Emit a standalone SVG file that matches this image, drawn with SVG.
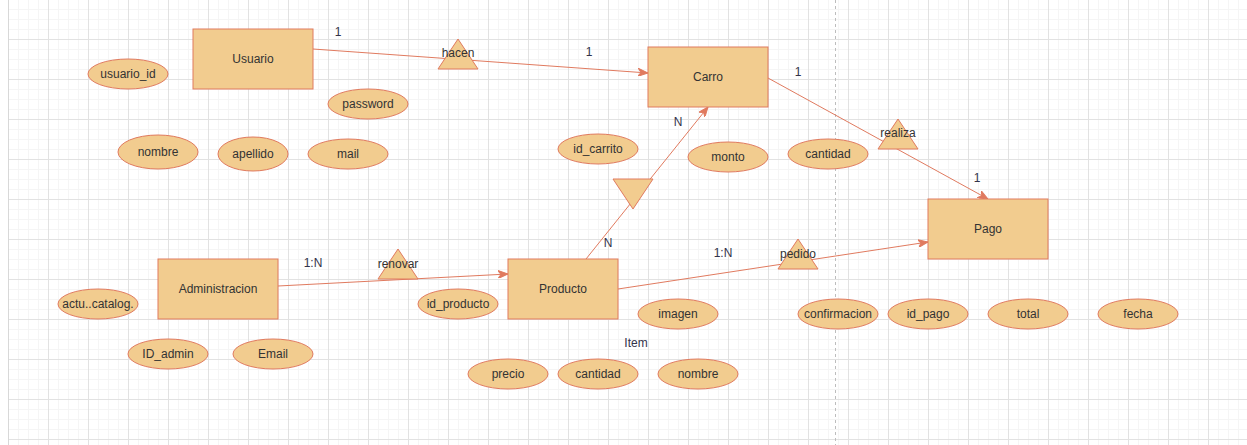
<svg xmlns="http://www.w3.org/2000/svg" width="1247" height="445" viewBox="0 0 1247 445">
<defs>
<pattern id="grid" x="8" y="0" width="40" height="40" patternUnits="userSpaceOnUse">
<path d="M10.5 0V40M20.5 0V40M30.5 0V40M0 9.5H40M0 19.5H40M0 29.5H40" stroke="#f5f5f5" stroke-width="1" fill="none"/>
<path d="M0.5 0V40M0 39.5H40" stroke="#e2e2e2" stroke-width="1" fill="none"/>
</pattern>
<marker id="arr" viewBox="0 0 10 8" refX="10" refY="4" markerWidth="10" markerHeight="8" markerUnits="userSpaceOnUse" orient="auto">
<path d="M0,0 L10,4 L0,8 L3,4 z" fill="#E07A5F" stroke="#E07A5F" stroke-width="1"/>
</marker>
</defs>
<style>
.ent{fill:#F2CC8F;stroke:#E07A5F;stroke-width:1}
.att{fill:#F2CC8F;stroke:#E07A5F;stroke-width:1}
.rel{fill:#F2CC8F;stroke:#E07A5F;stroke-width:1}
.t{font-family:"Liberation Sans",Arial,sans-serif;font-size:12px;fill:#333333;text-anchor:middle;dominant-baseline:central}
.lbl{font-family:"Liberation Sans",Arial,sans-serif;font-size:12px;fill:#33334a;text-anchor:middle;dominant-baseline:central}
.c{stroke:#E07A5F;stroke-width:1;fill:none;marker-end:url(#arr)}
</style>
<rect x="0" y="0" width="1247" height="445" fill="#ffffff"/>
<rect x="8" y="0" width="1239" height="445" fill="url(#grid)"/>
<line x1="8.5" y1="0" x2="8.5" y2="445" stroke="#d8d8d8"/>
<line x1="835.5" y1="0" x2="835.5" y2="445" stroke="#bdbdbd" stroke-dasharray="3,3"/>

<g id="connectors">
<line class="c" x1="313" y1="49" x2="648" y2="73"/>
<line class="c" x1="768" y1="78" x2="988" y2="199"/>
<line class="c" x1="586" y1="259" x2="708" y2="107"/>
<line class="c" x1="278" y1="286" x2="508" y2="274"/>
<line class="c" x1="618" y1="289" x2="928" y2="242"/>
</g>

<g id="usuario"><rect class="ent" x="193" y="29" width="120" height="60"/><text class="t" x="253" y="59">Usuario</text></g>
<g id="carro"><rect class="ent" x="648" y="47" width="120" height="60"/><text class="t" x="708" y="77">Carro</text></g>
<g id="pago"><rect class="ent" x="928" y="199" width="120" height="60"/><text class="t" x="988" y="229">Pago</text></g>
<g id="administracion"><rect class="ent" x="158" y="259" width="120" height="60"/><text class="t" x="218" y="289">Administracion</text></g>
<g id="producto"><rect class="ent" x="508" y="259" width="110" height="60"/><text class="t" x="563" y="289">Producto</text></g>

<g id="rel-hacen"><path class="rel" d="M458 39L478 69L438 69Z"/><text class="t" x="458" y="53">hacen</text></g>
<g id="rel-realiza"><path class="rel" d="M898 119L918 149L878 149Z"/><text class="t" x="898" y="133">realiza</text></g>
<g id="rel-pedido"><path class="rel" d="M798 239L818 269L778 269Z"/><text class="t" x="798" y="254">pedido</text></g>
<g id="rel-renovar"><path class="rel" d="M398 249L418 279L378 279Z"/><text class="t" x="398" y="264">renovar</text></g>
<g id="rel-item"><path class="rel" d="M613 179L653 179L633 209Z"/></g>

<g id="att-usuario_id"><ellipse class="att" cx="128" cy="74" rx="40" ry="15"/><text class="t" x="128" y="74">usuario_id</text></g>
<g id="att-password"><ellipse class="att" cx="368" cy="104" rx="40" ry="15"/><text class="t" x="368" y="104">password</text></g>
<g id="att-nombre"><ellipse class="att" cx="158" cy="152" rx="40" ry="17"/><text class="t" x="158" y="152">nombre</text></g>
<g id="att-apellido"><ellipse class="att" cx="253" cy="154" rx="35" ry="17"/><text class="t" x="253" y="154">apellido</text></g>
<g id="att-mail"><ellipse class="att" cx="348" cy="154" rx="40" ry="15"/><text class="t" x="348" y="154">mail</text></g>
<g id="att-id_carrito"><ellipse class="att" cx="598" cy="149" rx="40" ry="15"/><text class="t" x="598" y="149">id_carrito</text></g>
<g id="att-monto"><ellipse class="att" cx="728" cy="157" rx="40" ry="15"/><text class="t" x="728" y="157">monto</text></g>
<g id="att-cantidad-carro"><ellipse class="att" cx="828" cy="154" rx="40" ry="15"/><text class="t" x="828" y="154">cantidad</text></g>
<g id="att-confirmacion"><ellipse class="att" cx="838" cy="314" rx="40" ry="15"/><text class="t" x="838" y="314">confirmacion</text></g>
<g id="att-id_pago"><ellipse class="att" cx="928" cy="314" rx="40" ry="15"/><text class="t" x="928" y="314">id_pago</text></g>
<g id="att-total"><ellipse class="att" cx="1028" cy="314" rx="40" ry="15"/><text class="t" x="1028" y="314">total</text></g>
<g id="att-fecha"><ellipse class="att" cx="1138" cy="314" rx="40" ry="15"/><text class="t" x="1138" y="314">fecha</text></g>
<g id="att-actu"><ellipse class="att" cx="98" cy="304" rx="40" ry="15"/><text class="t" x="98" y="304">actu..catalog.</text></g>
<g id="att-id_admin"><ellipse class="att" cx="168" cy="354" rx="40" ry="15"/><text class="t" x="168" y="354">ID_admin</text></g>
<g id="att-email"><ellipse class="att" cx="273" cy="354" rx="40" ry="15"/><text class="t" x="273" y="354">Email</text></g>
<g id="att-id_producto"><ellipse class="att" cx="458" cy="304" rx="40" ry="15"/><text class="t" x="458" y="304">id_producto</text></g>
<g id="att-imagen"><ellipse class="att" cx="678" cy="314" rx="40" ry="15"/><text class="t" x="678" y="314">imagen</text></g>
<g id="att-precio"><ellipse class="att" cx="508" cy="374" rx="40" ry="15"/><text class="t" x="508" y="374">precio</text></g>
<g id="att-cantidad-item"><ellipse class="att" cx="598" cy="374" rx="40" ry="15"/><text class="t" x="598" y="374">cantidad</text></g>
<g id="att-nombre-item"><ellipse class="att" cx="698" cy="374" rx="40" ry="15"/><text class="t" x="698" y="374">nombre</text></g>

<g id="labels">
<text class="lbl" x="338" y="32">1</text>
<text class="lbl" x="589" y="52">1</text>
<text class="lbl" x="798" y="72">1</text>
<text class="lbl" x="678" y="122">N</text>
<text class="lbl" x="977" y="178">1</text>
<text class="lbl" x="608" y="243">N</text>
<text class="lbl" x="313" y="263">1:N</text>
<text class="lbl" x="723" y="253">1:N</text>
<text class="lbl" x="636" y="343">Item</text>
</g>
</svg>
